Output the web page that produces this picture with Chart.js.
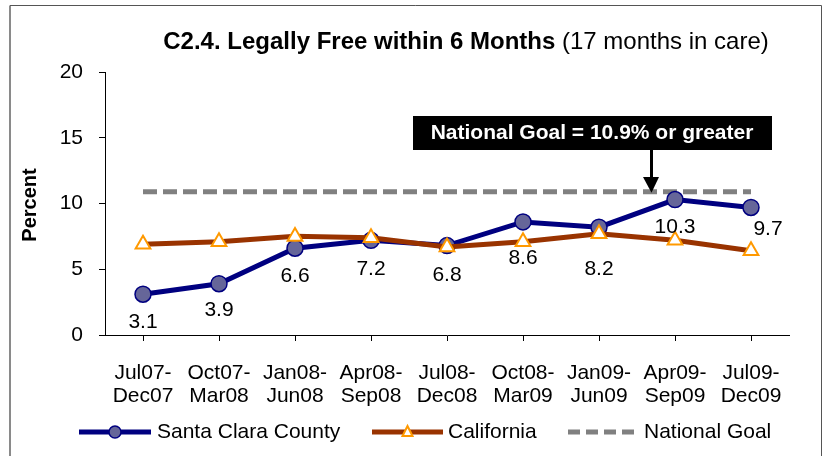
<!DOCTYPE html>
<html>
<head>
<meta charset="utf-8">
<script src="https://cdn.jsdelivr.net/npm/chart.js@4.4.1/dist/chart.umd.min.js"></script>
<style>
    body { margin: 0; background: #fff; }
    canvas { display: block; }
</style>
</head>
<body>
<canvas id="chart" width="823" height="456"></canvas>
<script>
const categories = [
    ['Jul07-', 'Dec07'],
    ['Oct07-', 'Mar08'],
    ['Jan08-', 'Jun08'],
    ['Apr08-', 'Sep08'],
    ['Jul08-', 'Dec08'],
    ['Oct08-', 'Mar09'],
    ['Jan09-', 'Jun09'],
    ['Apr09-', 'Sep09'],
    ['Jul09-', 'Dec09'],
];
const santaClara = [3.1, 3.9, 6.6, 7.2, 6.8, 8.6, 8.2, 10.3, 9.7];
const california = [6.9, 7.1, 7.5, 7.4, 6.7, 7.1, 7.7, 7.2, 6.4];
const nationalGoal = [10.9, 10.9, 10.9, 10.9, 10.9, 10.9, 10.9, 10.9, 10.9];
const yTicks = [0, 5, 10, 15, 20];

const FONT = '"Liberation Sans", Arial, sans-serif';

// label nudges (px) so the numbers sit where the original put them
const labelDy = [28, 26, 28, 29, 30, 36, 42, 28, 22];
const labelDx = [0, 0, 0, 0, 0, 0, 0, 0, 17];

const decorations = {
    id: 'decorations',
    afterDatasetsDraw(chart) {
        const { ctx } = chart;
        const meta = chart.getDatasetMeta(0);

        ctx.save();
        ctx.fillStyle = '#000';
        ctx.font = `21px ${FONT}`;
        ctx.textAlign = 'center';
        ctx.textBaseline = 'middle';
        meta.data.forEach((pt, i) => {
            ctx.fillText(santaClara[i].toFixed(1), pt.x + labelDx[i], pt.y + labelDy[i]);
        });
        ctx.restore();
    },
    afterDraw(chart) {
        const { ctx } = chart;
        ctx.save();

        // frame
        ctx.strokeStyle = '#8a8a8a';
        ctx.lineWidth = 2;
        ctx.beginPath();
        ctx.moveTo(10, 460);
        ctx.lineTo(10, 5.5);
        ctx.stroke();
        ctx.strokeStyle = '#555';
        ctx.lineWidth = 1;
        ctx.beginPath();
        ctx.moveTo(10, 5.5);
        ctx.lineTo(821.5, 5.5);
        ctx.lineTo(821.5, 460);
        ctx.stroke();

        // title, bold part + plain part
        const boldPart = 'C2.4. Legally Free within 6 Months';
        const plainPart = ' (17 months in care)';
        ctx.fillStyle = '#000';
        ctx.textBaseline = 'middle';
        ctx.font = `bold 24px ${FONT}`;
        const wb = ctx.measureText(boldPart).width;
        ctx.font = `24px ${FONT}`;
        const wp = ctx.measureText(plainPart).width;
        const startX = 466 - (wb + wp) / 2;
        ctx.textAlign = 'left';
        ctx.font = `bold 24px ${FONT}`;
        ctx.fillText(boldPart, startX, 42);
        ctx.font = `24px ${FONT}`;
        ctx.fillText(plainPart, startX + wb, 42);

        // y axis title
        ctx.save();
        ctx.translate(30, 205);
        ctx.rotate(-Math.PI / 2);
        ctx.textAlign = 'center';
        ctx.font = `bold 20px ${FONT}`;
        ctx.fillText('Percent', 0, 0);
        ctx.restore();

        // goal callout
        const yScale = chart.scales.y;
        const goalY = yScale.getPixelForValue(nationalGoal[0]);
        ctx.fillStyle = '#000';
        ctx.fillRect(413, 116, 359, 34);
        ctx.fillStyle = '#fff';
        ctx.textAlign = 'center';
        ctx.font = `bold 21px ${FONT}`;
        ctx.fillText('National Goal = 10.9% or greater', 592, 133);
        ctx.fillStyle = '#000';
        ctx.fillRect(650, 150, 3, 28);
        ctx.beginPath();
        ctx.moveTo(643, 177);
        ctx.lineTo(659, 177);
        ctx.lineTo(651.5, goalY + 1);
        ctx.closePath();
        ctx.fill();

        // legend
        const ly = 432;
        ctx.lineWidth = 5;
        ctx.strokeStyle = '#000080';
        ctx.beginPath();
        ctx.moveTo(79, ly);
        ctx.lineTo(151, ly);
        ctx.stroke();
        ctx.fillStyle = '#666699';
        ctx.lineWidth = 1.5;
        ctx.beginPath();
        ctx.arc(115, ly, 6, 0, Math.PI * 2);
        ctx.fill();
        ctx.stroke();

        ctx.lineWidth = 5;
        ctx.strokeStyle = '#993300';
        ctx.beginPath();
        ctx.moveTo(372, ly);
        ctx.lineTo(443, ly);
        ctx.stroke();
        ctx.fillStyle = '#fff';
        ctx.strokeStyle = '#ff9900';
        ctx.lineWidth = 2;
        ctx.beginPath();
        ctx.moveTo(407.5, ly - 6);
        ctx.lineTo(412.5, ly + 4);
        ctx.lineTo(402.5, ly + 4);
        ctx.closePath();
        ctx.fill();
        ctx.stroke();

        ctx.lineWidth = 5;
        ctx.strokeStyle = '#808080';
        ctx.setLineDash([12, 6]);
        ctx.beginPath();
        ctx.moveTo(568, ly);
        ctx.lineTo(640, ly);
        ctx.stroke();
        ctx.setLineDash([]);

        ctx.fillStyle = '#000';
        ctx.textAlign = 'left';
        ctx.font = `21px ${FONT}`;
        ctx.fillText('Santa Clara County', 157, ly);
        ctx.fillText('California', 448, ly);
        ctx.fillText('National Goal', 644, ly);

        ctx.restore();
    },
};

new Chart(document.getElementById('chart'), {
    type: 'line',
    data: {
        labels: categories,
        datasets: [
            {
                label: 'Santa Clara County',
                data: santaClara,
                borderColor: '#000080',
                backgroundColor: '#666699',
                borderWidth: 5,
                pointRadius: 8,
                pointBorderWidth: 1.5,
                pointBorderColor: '#000080',
                pointBackgroundColor: '#666699',
                tension: 0,
                order: 1,
            },
            {
                label: 'California',
                data: california,
                borderColor: '#993300',
                borderWidth: 5,
                pointStyle: 'triangle',
                pointRadius: 8.5,
                pointBorderWidth: 2,
                pointBorderColor: '#ff9900',
                pointBackgroundColor: '#ffffff',
                tension: 0,
                order: 0,
            },
            {
                label: 'National Goal',
                data: nationalGoal,
                borderColor: '#808080',
                borderWidth: 5,
                borderDash: [14, 6],
                pointRadius: 0,
                tension: 0,
                order: 2,
            },
        ],
    },
    options: {
        responsive: false,
        animation: false,
        layout: { padding: { left: 0, right: 34, top: 72, bottom: 0 } },
        plugins: {
            legend: { display: false },
            tooltip: { enabled: false },
            title: { display: false },
        },
        scales: {
            x: {
                offset: true,
                grid: {
                    drawOnChartArea: false,
                    drawTicks: true,
                    tickLength: 6,
                    color: '#000',
                },
                border: { display: true, color: '#000', width: 1 },
                ticks: {
                    color: '#000',
                    font: { family: FONT, size: 21, lineHeight: 1.1 },
                    padding: 21,
                    maxRotation: 0,
                    autoSkip: false,
                },
                afterFit(scale) { scale.height = 121; },
            },
            y: {
                min: 0,
                max: 20,
                afterBuildTicks(scale) {
                    scale.ticks = yTicks.map((v) => ({ value: v }));
                },
                grid: {
                    drawOnChartArea: false,
                    drawTicks: true,
                    tickLength: 6,
                    color: '#000',
                },
                border: { display: true, color: '#000', width: 1 },
                ticks: {
                    color: '#000',
                    font: { family: FONT, size: 21 },
                    padding: 16,
                },
                afterFit(scale) { scale.width = 105; },
            },
        },
    },
    plugins: [decorations],
});
</script>
</body>
</html>
